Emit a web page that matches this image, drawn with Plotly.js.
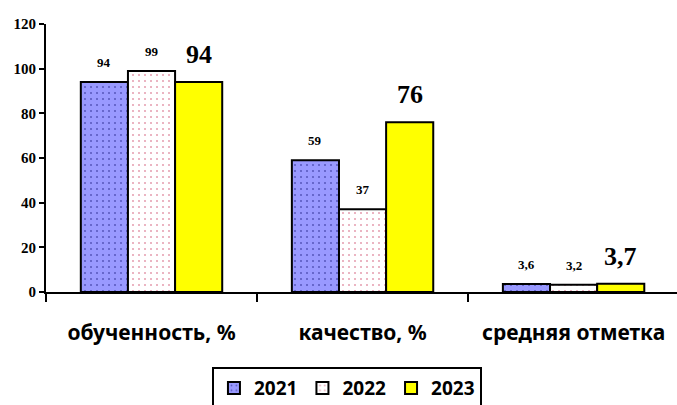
<!DOCTYPE html>
<html><head><meta charset="utf-8">
<script src="https://cdn.plot.ly/plotly-3.0.1.min.js"></script>
<style>html,body{margin:0;padding:0;background:#fff}#c{width:677px;height:405px}</style>
</head><body><div id="c"></div>
<script>
const categories = ["обученность, %", "качество, %", "средняя отметка"];
const years = ["2021", "2022", "2023"];
const v2021 = [94, 59, 3.6];
const v2022 = [99, 37, 3.2];
const v2023 = [94, 76, 3.7];
const yTicks = [0, 20, 40, 60, 80, 100, 120];

const series = [v2021, v2022, v2023];
const fills = [
  {bg: "#9999FF", fg: "#1a1a80"},
  {bg: "#FFFFFF", fg: "#cc4466"},
  {bg: "#FFFF00", fg: null}
];
const bargap = 0.33;
const bw = (1 - bargap) / 3;
const sans = "Noto Sans, Open Sans, Liberation Sans, sans-serif";
const serif = "Liberation Serif, Times New Roman, serif";

const traces = series.map((vals, k) => {
  const m = {color: fills[k].bg, line: {color: "#000", width: 2}};
  if (fills[k].fg) m.pattern = {shape: ".", fgcolor: fills[k].fg, bgcolor: fills[k].bg, size: 6, solidity: 0.1, fillmode: "overlay"};
  return {type: "bar", name: "<b>" + years[k] + "</b>", x: categories, y: vals, marker: m, hoverinfo: "none"};
});

const fmt = v => String(v).replace(".", ",");
const annotations = [];
series.forEach((vals, k) => {
  vals.forEach((v, i) => {
    const big = k === 2;
    annotations.push({
      x: i + (k - 1) * bw, y: v, xref: "x", yref: "y",
      text: "<b>" + fmt(v) + "</b>", showarrow: false,
      yanchor: "bottom", xanchor: "center",
      yshift: big ? 11 : 10,
      font: {family: serif, size: big ? 26 : 13, color: "#000", weight: 700}
    });
  });
});

const layout = {
  width: 677, height: 405,
  margin: {l: 46, r: 0, t: 24, b: 113, autoexpand: false},
  paper_bgcolor: "#fff", plot_bgcolor: "#fff",
  barmode: "group", bargap: bargap, bargroupgap: 0,
  showlegend: true,
  legend: {
    orientation: "h", x: 0.263, xanchor: "left", y: -0.28, yanchor: "top",
    bordercolor: "#000", borderwidth: 2, bgcolor: "#fff",
    font: {family: sans, size: 19, color: "#000", weight: 700},
    tracegroupgap: 0
  },
  xaxis: {
    type: "category", range: [-0.5, 2.49], automargin: false,
    tickvals: categories, ticktext: categories.map(c => "<b>" + c + "</b>"),
    showline: true, linecolor: "#000", linewidth: 2,
    ticks: "outside", tickson: "boundaries", ticklen: 8, tickwidth: 2, tickcolor: "#000",
    ticklabelstandoff: 21,
    showgrid: false, zeroline: false,
    tickfont: {family: sans, size: 21, color: "#000", weight: 700}
  },
  yaxis: {
    range: [0, 120], tickvals: yTicks, ticktext: yTicks.map(t => "<b>" + t + "</b>"),
    showline: true, linecolor: "#000", linewidth: 2, automargin: false,
    ticks: "outside", ticklen: 5, tickwidth: 2, tickcolor: "#000",
    ticklabelstandoff: 0,
    showgrid: false, zeroline: false,
    tickfont: {family: serif, size: 15, color: "#000", weight: 700}
  },
  annotations: annotations
};
Plotly.newPlot("c", traces, layout, {displayModeBar: false, staticPlot: true});
</script></body></html>
